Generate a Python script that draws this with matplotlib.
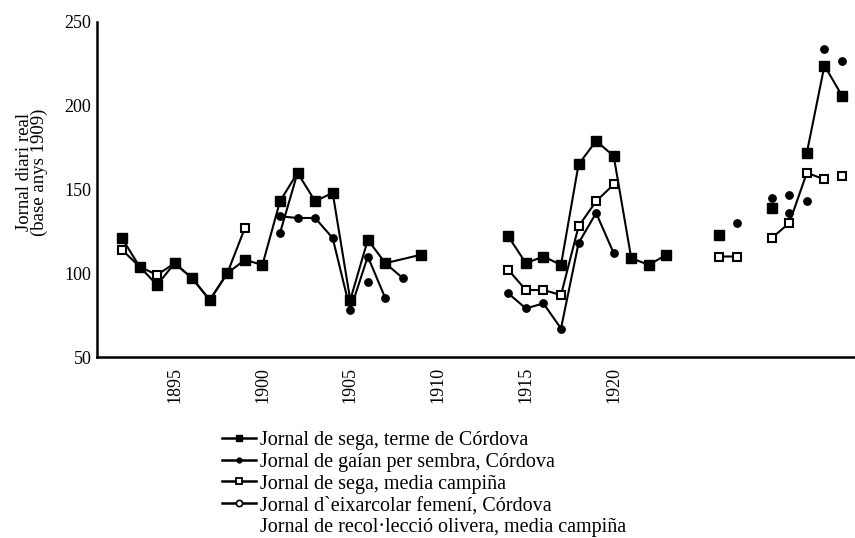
import numpy as np
import matplotlib
matplotlib.use("Agg")
from matplotlib import pyplot as plt
from matplotlib.lines import Line2D

nan = np.nan

# Jornal de sega, terme de Cordova (filled squares); nan = break in the line
sega_terme_years = [1892, 1893, 1894, 1895, 1896, 1897, 1898, 1899, 1900, 1901,
                    1902, 1903, 1904, 1905, 1906, 1907, 1909, 1910,
                    1914, 1915, 1916, 1917, 1918, 1919, 1920, 1921, 1922, 1923,
                    1924, 1926, 1927, 1929, 1930, 1931, 1932, 1933]
sega_terme = [121, 104, 93, 106, 97, 84, 100, 108, 105, 143,
              160, 143, 148, 84, 120, 106, 111, nan,
              122, 106, 110, 105, 165, 179, 170, 109, 105, 111,
              nan, 123, nan, 139, nan, 172, 224, 206]

# Jornal de gaian per sembra, Cordova (filled dots)
gaian_years = [1901, 1902, 1903, 1907, 1908, 1909,
               1914, 1915, 1916, 1917, 1918, 1919, 1920]
gaian = [124, 160, nan, 106, 97, nan,
         88, 79, 82, 67, 118, 136, 112]
gaian_solo_years = [1927, 1929, 1930, 1931, 1932, 1933]
gaian_solo = [130, 145, 147, 143, 234, 227]

# Jornal de sega, media campina (open squares)
sega_media_years = [1892, 1893, 1894, 1895, 1896, 1897, 1898, 1899, 1900,
                    1914, 1915, 1916, 1917, 1918, 1919, 1920, 1921,
                    1926, 1927, 1928, 1929, 1930, 1931, 1932]
sega_media = [114, 104, 99, 106, 97, 84, 100, 127, nan,
              102, 90, 90, 87, 128, 143, 153, nan,
              110, 110, nan, 121, 130, 160, 156]
sega_media_solo_years = [1933]
sega_media_solo = [158]

# Jornal d'eixarcolar femeni, Cordova
eixarcolar_years = [1901, 1902, 1903, 1904, 1905, 1906, 1907]
eixarcolar = [134, 133, 133, 121, 78, 110, 85]

# Jornal de recol-leccio olivera, media campina (loose dots)
olivera_years = [1906, 1930]
olivera = [95, 136]

labels = ["Jornal de sega, terme de Córdova",
          "Jornal de gaían per sembra, Córdova",
          "Jornal de sega, media campiña",
          "Jornal d`eixarcolar femení, Córdova",
          "Jornal de recol·lecció olivera, media campiña"]

plt.rcParams['font.family'] = ['Liberation Serif', 'DejaVu Serif']

fig = plt.figure(figsize=(8.55, 5.38), dpi=100)
ax = fig.add_axes([97 / 855, 1 - 357 / 538, 758 / 855, 335 / 538])

lw = 1.5
ax.plot(eixarcolar_years, eixarcolar, color="black", lw=lw, marker="o", ms=5.3, zorder=2)
ax.plot(gaian_years, gaian, color="black", lw=lw, marker="o", ms=5.3, zorder=2)
ax.plot(gaian_solo_years, gaian_solo, color="black", ls="none", marker="o", ms=5.3, zorder=2)
ax.plot(olivera_years, olivera, color="black", ls="none", marker="o", ms=5.3, zorder=2)
ax.plot(sega_media_years, sega_media, color="black", lw=lw, marker="s", ms=6,
        mfc="white", mec="black", mew=1.5, zorder=3)
ax.plot(sega_media_solo_years, sega_media_solo, color="black", ls="none", marker="s", ms=6,
        mfc="white", mec="black", mew=1.5, zorder=3)
ax.plot(sega_terme_years, sega_terme, color="black", lw=lw, marker="s", ms=7, zorder=4)

ax.set_xlim(1890.58, 1933.74)
ax.set_ylim(50, 250)
ax.set_yticks(range(50, 251, 50))
ax.set_xticks(range(1895, 1921, 5))
ax.tick_params(axis="x", rotation=90, length=0, pad=7, labelsize=13)
ax.tick_params(axis="y", length=0, pad=4, labelsize=13)
for s in ["top", "right"]:
    ax.spines[s].set_visible(False)
for s in ["left", "bottom"]:
    ax.spines[s].set_linewidth(1.8)

ax.set_ylabel("Jornal diari real\n(base anys 1909)", fontsize=13.5, linespacing=0.9)
ax.yaxis.set_label_coords(-0.064, 0.552)

handles = [
    Line2D([], [], color="black", lw=1.8, marker="s", ms=5),
    Line2D([], [], color="black", lw=1.8, marker="o", ms=3.5),
    Line2D([], [], color="black", lw=1.8, marker="s", ms=5, mfc="white", mew=1.3),
    Line2D([], [], color="black", lw=1.8, marker="o", ms=4.5, mfc="white", mew=1.2),
    Line2D([], [], ls="none", marker=None),
]
fig.legend(handles, labels, loc="upper left", bbox_to_anchor=(222 / 855, 1 - 431 / 538),
           frameon=False, fontsize=14.5, numpoints=1, handlelength=1.7,
           handletextpad=0.2, labelspacing=0.13, borderpad=0, borderaxespad=0)

fig.savefig("out.png", dpi=100)
